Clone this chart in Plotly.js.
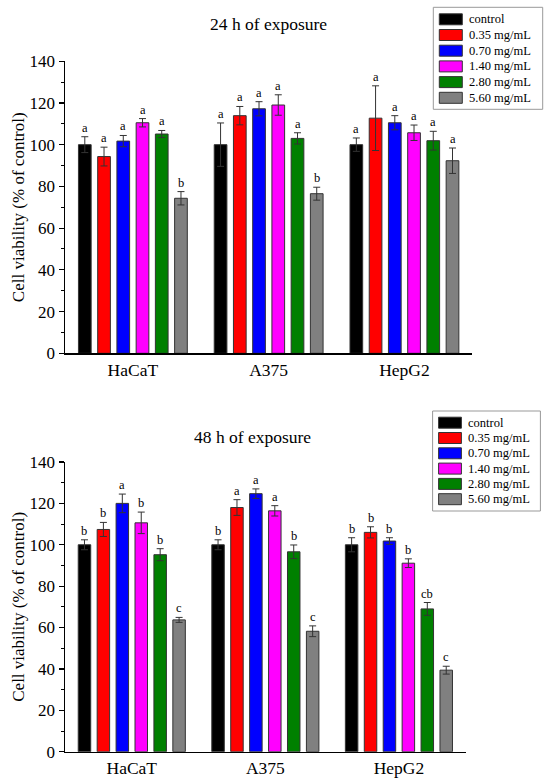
<!DOCTYPE html>
<html>
<head>
<meta charset="utf-8">
<script src="https://cdn.plot.ly/plotly-3.0.1.min.js"></script>
<style>html,body{margin:0;padding:0;background:#fff;}#chart{width:550px;height:783px;}</style>
</head>
<body>
<div id="chart"></div>
<script>
// ---- data ----
var cellLines = ['HaCaT', 'A375', 'HepG2'];
var doses = ['control', '0.35 mg/mL', '0.70 mg/mL', '1.40 mg/mL', '2.80 mg/mL', '5.60 mg/mL'];
var doseColors = ['#000000', '#ff0000', '#0000ff', '#ff00ff', '#008000', '#808080'];

// 24 h of exposure
var v24_control = [100.0, 100.0, 100.0];
var v24_035 = [94.3, 113.9, 112.7];
var v24_070 = [101.7, 117.2, 110.5];
var v24_140 = [110.5, 119.0, 105.7];
var v24_280 = [105.1, 103.0, 101.9];
var v24_560 = [74.3, 76.5, 92.3];
var e24_control = [3.8, 10.4, 3.2];
var e24_035 = [4.5, 4.4, 15.5];
var e24_070 = [2.7, 3.4, 3.4];
var e24_140 = [2.0, 4.9, 3.7];
var e24_280 = [1.7, 2.7, 4.5];
var e24_560 = [3.2, 3.1, 6.1];
var l24_control = ['a', 'a', 'a'];
var l24_035 = ['a', 'a', 'a'];
var l24_070 = ['a', 'a', 'a'];
var l24_140 = ['a', 'a', 'a'];
var l24_280 = ['a', 'a', 'a'];
var l24_560 = ['b', 'b', 'a'];

// 48 h of exposure
var v48_control = [100.0, 100.0, 100.0];
var v48_035 = [107.4, 118.0, 106.0];
var v48_070 = [120.0, 124.7, 101.8];
var v48_140 = [110.6, 116.4, 91.1];
var v48_280 = [95.2, 96.6, 69.0];
var v48_560 = [63.7, 58.2, 39.4];
var e48_control = [2.4, 2.4, 3.4];
var e48_035 = [3.4, 3.8, 2.7];
var e48_070 = [4.5, 2.3, 1.6];
var e48_140 = [5.2, 2.5, 2.1];
var e48_280 = [2.9, 3.3, 3.1];
var e48_560 = [1.2, 2.6, 1.9];
var l48_control = ['b', 'b', 'b'];
var l48_035 = ['b', 'a', 'b'];
var l48_070 = ['a', 'a', 'b'];
var l48_140 = ['b', 'a', 'b'];
var l48_280 = ['b', 'b', 'cb'];
var l48_560 = ['c', 'c', 'c'];

var yTicks = [0, 20, 40, 60, 80, 100, 120, 140];

var vals24 = [v24_control, v24_035, v24_070, v24_140, v24_280, v24_560];
var errs24 = [e24_control, e24_035, e24_070, e24_140, e24_280, e24_560];
var labs24 = [l24_control, l24_035, l24_070, l24_140, l24_280, l24_560];
var vals48 = [v48_control, v48_035, v48_070, v48_140, v48_280, v48_560];
var errs48 = [e48_control, e48_035, e48_070, e48_140, e48_280, e48_560];
var labs48 = [l48_control, l48_035, l48_070, l48_140, l48_280, l48_560];

// ---- layout constants ----
var FONT = '"Liberation Serif", "Times New Roman", serif';
var BARGAP = 0.15, BARGROUPGAP = 0.34;
var W = 550, H = 783;

var traces = [];
var annotations = [];
var shapes = [];

function px(x) { return x / W; }
function py(y) { return 1 - y / H; }

function addPanel(vals, errs, labs, xa, ya) {
  var nD = doses.length;
  var slot = (1 - BARGAP) / nD;
  for (var d = 0; d < nD; d++) {
    traces.push({
      type: 'bar',
      x: cellLines,
      y: vals[d],
      name: doses[d],
      xaxis: xa, yaxis: ya,
      showlegend: false,
      marker: {color: doseColors[d], line: {color: '#333333', width: 1}},
      error_y: {type: 'data', array: errs[d], visible: true, color: '#333333', thickness: 1, width: 3.5},
      hoverinfo: 'x+y+name'
    });
    for (var c = 0; c < cellLines.length; c++) {
      annotations.push({
        xref: xa, yref: ya,
        x: c - (1 - BARGAP) / 2 + slot * (d + 0.5),
        y: vals[d][c] + errs[d][c],
        text: labs[d][c],
        showarrow: false,
        yanchor: 'bottom',
        yshift: 0,
        font: {family: FONT, size: 12.5, color: '#000'}
      });
    }
  }
}

// legend drawn as a framed key: box, colour swatches and labels
function addKey(box, swX0, swX1, textX, firstY, step) {
  shapes.push({type: 'rect', xref: 'paper', yref: 'paper',
    x0: px(box[0]), x1: px(box[1]), y0: py(box[2]), y1: py(box[3]),
    line: {color: '#999999', width: 1}, fillcolor: '#ffffff', layer: 'above'});
  for (var d = 0; d < doses.length; d++) {
    var cy = firstY + step * d;
    shapes.push({type: 'rect', xref: 'paper', yref: 'paper',
      x0: px(swX0), x1: px(swX1), y0: py(cy - 5.5), y1: py(cy + 5.5),
      line: {color: '#333333', width: 1}, fillcolor: doseColors[d], layer: 'above'});
    annotations.push({xref: 'paper', yref: 'paper', x: px(textX), y: py(cy),
      xanchor: 'left', yanchor: 'middle', showarrow: false,
      text: doses[d], font: {family: FONT, size: 12.5, color: '#000'}});
  }
}

addPanel(vals24, errs24, labs24, 'x', 'y');
addPanel(vals48, errs48, labs48, 'x2', 'y2');
addKey([433.3, 542.7, 7.3, 109.3], 439.3, 462.3, 466.5, 19.3, 15.7);
addKey([432.6, 540.4, 411, 511], 438.6, 461.4, 465.5, 422.7, 15.3);

annotations.push({
  xref: 'paper', yref: 'paper', x: px(268), y: py(24),
  xanchor: 'center', yanchor: 'middle', showarrow: false,
  text: '24 h of exposure', font: {family: FONT, size: 17.5, color: '#000'}
});
annotations.push({
  xref: 'paper', yref: 'paper', x: px(252), y: py(437),
  xanchor: 'center', yanchor: 'middle', showarrow: false,
  text: '48 h of exposure', font: {family: FONT, size: 17.5, color: '#000'}
});

function xAxis(domain, anchor) {
  return {
    domain: domain, anchor: anchor, type: 'category',
    range: [-0.5, 2.5],
    showline: true, linecolor: '#000', linewidth: 1.5,
    ticks: '', showgrid: false, zeroline: false,
    tickfont: {family: FONT, size: 17.5, color: '#000'},
    automargin: false, fixedrange: true
  };
}
function yAxis(domain, anchor) {
  return {
    domain: domain, anchor: anchor,
    range: [0, 140],
    tickvals: yTicks,
    showline: true, linecolor: '#000', linewidth: 1.5,
    ticks: 'outside', ticklen: 5, tickwidth: 1.2, tickcolor: '#000',
    minor: {dtick: 10, tick0: 0, ticks: 'outside', ticklen: 3, tickwidth: 1, tickcolor: '#000', showgrid: false},
    showgrid: false, zeroline: false,
    tickfont: {family: FONT, size: 17, color: '#000'},
    title: {text: 'Cell viability (% of control)', font: {family: FONT, size: 17, color: '#000'}, standoff: 0},
    automargin: false, fixedrange: true
  };
}

var layout = {
  width: W, height: H,
  margin: {l: 0, r: 0, t: 0, b: 0, pad: 0},
  paper_bgcolor: '#ffffff', plot_bgcolor: '#ffffff',
  font: {family: FONT, color: '#000'},
  barmode: 'group', bargap: BARGAP, bargroupgap: BARGROUPGAP,
  showlegend: false,
  xaxis: xAxis([px(65), px(472.3)], 'y'),
  yaxis: yAxis([py(353.3), py(61.2)], 'x'),
  xaxis2: xAxis([px(65), px(465.7)], 'y2'),
  yaxis2: yAxis([py(751.7), py(462)], 'x2'),
  shapes: shapes,
  annotations: annotations
};

Plotly.newPlot('chart', traces, layout, {displayModeBar: false, staticPlot: true});
</script>
</body>
</html>
